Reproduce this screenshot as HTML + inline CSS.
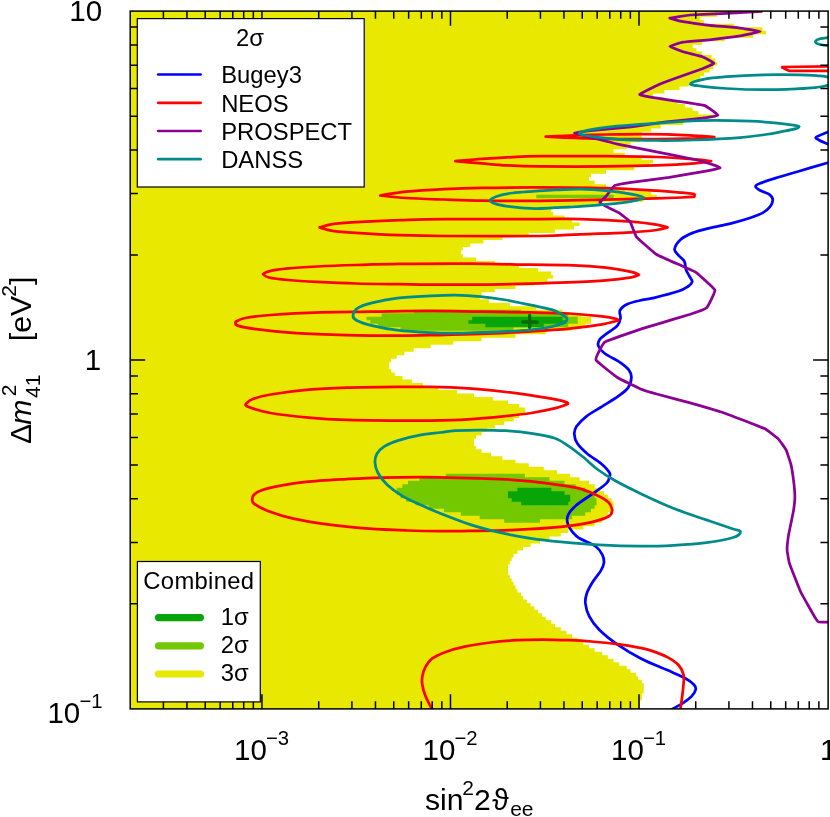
<!DOCTYPE html>
<html><head><meta charset="utf-8"><title>chart</title>
<style>html,body{margin:0;padding:0;background:#fff;}body{width:830px;height:817px;overflow:hidden;font-family:"Liberation Sans",sans-serif;}svg{display:block;will-change:transform;transform:translateZ(0);}</style></head>
<body>
<svg width="830" height="817" viewBox="0 0 830 817">
<defs><clipPath id="pc"><rect x="130.2" y="11.1" width="697.9" height="697.8"/></clipPath></defs>
<rect x="0" y="0" width="830" height="817" fill="#ffffff"/>
<g clip-path="url(#pc)">
<path d="M130.2 11.1L762.46 11.1 L762.46 13.24L717.22 13.24 L717.22 16.73L700.25 16.73 L700.25 20.22L704.02 20.22 L704.02 23.71L734.19 23.71 L734.19 27.2L762.46 27.2 L762.46 30.69L766.23 30.69 L766.23 34.18L753.04 34.18 L753.04 37.67L724.76 37.67 L724.76 41.16L702.14 41.16 L702.14 44.65L692.71 44.65 L692.71 48.13L696.48 48.13 L696.48 51.62L702.14 51.62 L702.14 55.11L711.57 55.11 L711.57 58.6L715.34 58.6 L715.34 62.09L717.22 62.09 L717.22 65.58L713.45 65.58 L713.45 69.07L709.68 69.07 L709.68 72.56L704.02 72.56 L704.02 76.05L700.25 76.05 L700.25 79.54L694.6 79.54 L694.6 83.02L688.94 83.02 L688.94 86.51L679.52 86.51 L679.52 90L664.44 90 L664.44 93.49L653.13 93.49 L653.13 96.98L664.44 96.98 L664.44 100.47L677.63 100.47 L677.63 103.96L685.17 103.96 L685.17 107.45L692.71 107.45 L692.71 110.94L698.37 110.94 L698.37 114.43L715.34 114.43 L715.34 117.91L702.14 117.91 L702.14 121.4L683.29 121.4 L683.29 124.89L660.67 124.89 L660.67 128.38L651.24 128.38 L651.24 131.87L641.82 131.87 L641.82 135.36L641.82 135.36 L641.82 138.85L639.93 138.85 L639.93 142.34L630.51 142.34 L630.51 145.83L626.73 145.83 L626.73 149.32L613.54 149.32 L613.54 152.8L624.85 152.8 L624.85 156.29L641.82 156.29 L641.82 159.78L653.13 159.78 L653.13 163.27L649.36 163.27 L649.36 166.76L634.28 166.76 L634.28 170.25L606 170.25 L606 173.74L590.92 173.74 L590.92 177.23L589.03 177.23 L589.03 180.72L594.69 180.72 L594.69 184.21L606 184.21 L606 187.69L624.85 187.69 L624.85 191.18L651.24 191.18 L651.24 194.67L656.9 194.67 L656.9 198.16L643.7 198.16 L643.7 201.65L602.23 201.65 L602.23 205.14L570.18 205.14 L570.18 208.63L551.33 208.63 L551.33 212.12L553.22 212.12 L553.22 215.61L564.53 215.61 L564.53 219.1L572.07 219.1 L572.07 222.58L579.61 222.58 L579.61 226.07L573.95 226.07 L573.95 229.56L555.1 229.56 L555.1 233.05L528.71 233.05 L528.71 236.54L502.32 236.54 L502.32 240.03L483.47 240.03 L483.47 243.52L470.27 243.52 L470.27 247.01L462.73 247.01 L462.73 250.5L460.84 250.5 L460.84 253.99L462.73 253.99 L462.73 257.47L475.93 257.47 L475.93 260.96L494.78 260.96 L494.78 264.45L519.28 264.45 L519.28 267.94L538.13 267.94 L538.13 271.43L551.33 271.43 L551.33 274.92L553.22 274.92 L553.22 278.41L547.56 278.41 L547.56 281.9L534.36 281.9 L534.36 285.39L515.51 285.39 L515.51 288.88L494.78 288.88 L494.78 292.36L481.58 292.36 L481.58 295.85L479.7 295.85 L479.7 299.34L489.12 299.34 L489.12 302.83L509.86 302.83 L509.86 306.32L536.25 306.32 L536.25 309.81L562.64 309.81 L562.64 313.3L581.49 313.3 L581.49 316.79L590.92 316.79 L590.92 320.28L590.92 320.28 L590.92 323.77L585.26 323.77 L585.26 327.25L570.18 327.25 L570.18 330.74L545.67 330.74 L545.67 334.23L515.51 334.23 L515.51 337.72L481.58 337.72 L481.58 341.21L453.3 341.21 L453.3 344.7L430.68 344.7 L430.68 348.19L413.72 348.19 L413.72 351.68L404.29 351.68 L404.29 355.17L396.75 355.17 L396.75 358.66L391.09 358.66 L391.09 362.14L389.21 362.14 L389.21 365.63L389.21 365.63 L389.21 369.12L391.09 369.12 L391.09 372.61L394.87 372.61 L394.87 376.1L402.41 376.1 L402.41 379.59L411.83 379.59 L411.83 383.08L423.14 383.08 L423.14 386.57L438.22 386.57 L438.22 390.06L457.07 390.06 L457.07 393.55L474.04 393.55 L474.04 397.03L492.89 397.03 L492.89 400.52L507.97 400.52 L507.97 404.01L519.28 404.01 L519.28 407.5L524.94 407.5 L524.94 410.99L524.94 410.99 L524.94 414.48L519.28 414.48 L519.28 417.97L513.63 417.97 L513.63 421.46L504.2 421.46 L504.2 424.95L494.78 424.95 L494.78 428.44L487.24 428.44 L487.24 431.92L481.58 431.92 L481.58 435.41L475.93 435.41 L475.93 438.9L474.04 438.9 L474.04 442.39L474.04 442.39 L474.04 445.88L475.93 445.88 L475.93 449.37L481.58 449.37 L481.58 452.86L491.01 452.86 L491.01 456.35L502.32 456.35 L502.32 459.84L515.51 459.84 L515.51 463.33L528.71 463.33 L528.71 466.81L543.79 466.81 L543.79 470.3L556.99 470.3 L556.99 473.79L570.18 473.79 L570.18 477.28L579.61 477.28 L579.61 480.77L589.03 480.77 L589.03 484.26L594.69 484.26 L594.69 487.75L600.34 487.75 L600.34 491.24L604.11 491.24 L604.11 494.73L607.88 494.73 L607.88 498.22L611.65 498.22 L611.65 501.7L613.54 501.7 L613.54 505.19L613.54 505.19 L613.54 508.68L611.65 508.68 L611.65 512.17L607.88 512.17 L607.88 515.66L604.11 515.66 L604.11 519.15L602.23 519.15 L602.23 522.64L594.69 522.64 L594.69 526.13L583.38 526.13 L583.38 529.62L568.3 529.62 L568.3 533.11L560.76 533.11 L560.76 536.59L549.44 536.59 L549.44 540.08L540.02 540.08 L540.02 543.57L530.59 543.57 L530.59 547.06L523.05 547.06 L523.05 550.55L517.4 550.55 L517.4 554.04L513.63 554.04 L513.63 557.53L511.74 557.53 L511.74 561.02L509.86 561.02 L509.86 564.51L507.97 564.51 L507.97 568L507.97 568 L507.97 571.48L507.97 571.48 L507.97 574.97L509.86 574.97 L509.86 578.46L511.74 578.46 L511.74 581.95L513.63 581.95 L513.63 585.44L515.51 585.44 L515.51 588.93L517.4 588.93 L517.4 592.42L521.17 592.42 L521.17 595.91L523.05 595.91 L523.05 599.4L526.82 599.4 L526.82 602.89L530.59 602.89 L530.59 606.37L534.36 606.37 L534.36 609.86L538.13 609.86 L538.13 613.35L541.9 613.35 L541.9 616.84L545.67 616.84 L545.67 620.33L551.33 620.33 L551.33 623.82L555.1 623.82 L555.1 627.31L560.76 627.31 L560.76 630.8L566.41 630.8 L566.41 634.29L572.07 634.29 L572.07 637.78L577.72 637.78 L577.72 641.26L583.38 641.26 L583.38 644.75L589.03 644.75 L589.03 648.24L594.69 648.24 L594.69 651.73L602.23 651.73 L602.23 655.22L607.88 655.22 L607.88 658.71L613.54 658.71 L613.54 662.2L619.19 662.2 L619.19 665.69L626.73 665.69 L626.73 669.18L630.51 669.18 L630.51 672.67L636.16 672.67 L636.16 676.15L638.05 676.15 L638.05 679.64L641.82 679.64 L641.82 683.13L643.7 683.13 L643.7 686.62L643.7 686.62 L643.7 690.11L643.7 690.11 L643.7 693.6L641.82 693.6 L641.82 697.09L641.82 697.09 L641.82 700.58L639.93 700.58 L639.93 704.07L639.93 704.07 L639.93 707.56L639.93 707.56 L639.93 708.9L130.2 708.9 L130.2 707.56L130.2 707.56 L130.2 704.07L130.2 704.07 L130.2 700.58L130.2 700.58 L130.2 697.09L130.2 697.09 L130.2 693.6L130.2 693.6 L130.2 690.11L130.2 690.11 L130.2 686.62L130.2 686.62 L130.2 683.13L130.2 683.13 L130.2 679.64L130.2 679.64 L130.2 676.15L130.2 676.15 L130.2 672.67L130.2 672.67 L130.2 669.18L130.2 669.18 L130.2 665.69L130.2 665.69 L130.2 662.2L130.2 662.2 L130.2 658.71L130.2 658.71 L130.2 655.22L130.2 655.22 L130.2 651.73L130.2 651.73 L130.2 648.24L130.2 648.24 L130.2 644.75L130.2 644.75 L130.2 641.26L130.2 641.26 L130.2 637.78L130.2 637.78 L130.2 634.29L130.2 634.29 L130.2 630.8L130.2 630.8 L130.2 627.31L130.2 627.31 L130.2 623.82L130.2 623.82 L130.2 620.33L130.2 620.33 L130.2 616.84L130.2 616.84 L130.2 613.35L130.2 613.35 L130.2 609.86L130.2 609.86 L130.2 606.37L130.2 606.37 L130.2 602.89L130.2 602.89 L130.2 599.4L130.2 599.4 L130.2 595.91L130.2 595.91 L130.2 592.42L130.2 592.42 L130.2 588.93L130.2 588.93 L130.2 585.44L130.2 585.44 L130.2 581.95L130.2 581.95 L130.2 578.46L130.2 578.46 L130.2 574.97L130.2 574.97 L130.2 571.48L130.2 571.48 L130.2 568L130.2 568 L130.2 564.51L130.2 564.51 L130.2 561.02L130.2 561.02 L130.2 557.53L130.2 557.53 L130.2 554.04L130.2 554.04 L130.2 550.55L130.2 550.55 L130.2 547.06L130.2 547.06 L130.2 543.57L130.2 543.57 L130.2 540.08L130.2 540.08 L130.2 536.59L130.2 536.59 L130.2 533.11L130.2 533.11 L130.2 529.62L130.2 529.62 L130.2 526.13L130.2 526.13 L130.2 522.64L130.2 522.64 L130.2 519.15L130.2 519.15 L130.2 515.66L130.2 515.66 L130.2 512.17L130.2 512.17 L130.2 508.68L130.2 508.68 L130.2 505.19L130.2 505.19 L130.2 501.7L130.2 501.7 L130.2 498.22L130.2 498.22 L130.2 494.73L130.2 494.73 L130.2 491.24L130.2 491.24 L130.2 487.75L130.2 487.75 L130.2 484.26L130.2 484.26 L130.2 480.77L130.2 480.77 L130.2 477.28L130.2 477.28 L130.2 473.79L130.2 473.79 L130.2 470.3L130.2 470.3 L130.2 466.81L130.2 466.81 L130.2 463.33L130.2 463.33 L130.2 459.84L130.2 459.84 L130.2 456.35L130.2 456.35 L130.2 452.86L130.2 452.86 L130.2 449.37L130.2 449.37 L130.2 445.88L130.2 445.88 L130.2 442.39L130.2 442.39 L130.2 438.9L130.2 438.9 L130.2 435.41L130.2 435.41 L130.2 431.92L130.2 431.92 L130.2 428.44L130.2 428.44 L130.2 424.95L130.2 424.95 L130.2 421.46L130.2 421.46 L130.2 417.97L130.2 417.97 L130.2 414.48L130.2 414.48 L130.2 410.99L130.2 410.99 L130.2 407.5L130.2 407.5 L130.2 404.01L130.2 404.01 L130.2 400.52L130.2 400.52 L130.2 397.03L130.2 397.03 L130.2 393.55L130.2 393.55 L130.2 390.06L130.2 390.06 L130.2 386.57L130.2 386.57 L130.2 383.08L130.2 383.08 L130.2 379.59L130.2 379.59 L130.2 376.1L130.2 376.1 L130.2 372.61L130.2 372.61 L130.2 369.12L130.2 369.12 L130.2 365.63L130.2 365.63 L130.2 362.14L130.2 362.14 L130.2 358.66L130.2 358.66 L130.2 355.17L130.2 355.17 L130.2 351.68L130.2 351.68 L130.2 348.19L130.2 348.19 L130.2 344.7L130.2 344.7 L130.2 341.21L130.2 341.21 L130.2 337.72L130.2 337.72 L130.2 334.23L130.2 334.23 L130.2 330.74L130.2 330.74 L130.2 327.25L130.2 327.25 L130.2 323.77L130.2 323.77 L130.2 320.28L130.2 320.28 L130.2 316.79L130.2 316.79 L130.2 313.3L130.2 313.3 L130.2 309.81L130.2 309.81 L130.2 306.32L130.2 306.32 L130.2 302.83L130.2 302.83 L130.2 299.34L130.2 299.34 L130.2 295.85L130.2 295.85 L130.2 292.36L130.2 292.36 L130.2 288.88L130.2 288.88 L130.2 285.39L130.2 285.39 L130.2 281.9L130.2 281.9 L130.2 278.41L130.2 278.41 L130.2 274.92L130.2 274.92 L130.2 271.43L130.2 271.43 L130.2 267.94L130.2 267.94 L130.2 264.45L130.2 264.45 L130.2 260.96L130.2 260.96 L130.2 257.47L130.2 257.47 L130.2 253.99L130.2 253.99 L130.2 250.5L130.2 250.5 L130.2 247.01L130.2 247.01 L130.2 243.52L130.2 243.52 L130.2 240.03L130.2 240.03 L130.2 236.54L130.2 236.54 L130.2 233.05L130.2 233.05 L130.2 229.56L130.2 229.56 L130.2 226.07L130.2 226.07 L130.2 222.58L130.2 222.58 L130.2 219.1L130.2 219.1 L130.2 215.61L130.2 215.61 L130.2 212.12L130.2 212.12 L130.2 208.63L130.2 208.63 L130.2 205.14L130.2 205.14 L130.2 201.65L130.2 201.65 L130.2 198.16L130.2 198.16 L130.2 194.67L130.2 194.67 L130.2 191.18L130.2 191.18 L130.2 187.69L130.2 187.69 L130.2 184.21L130.2 184.21 L130.2 180.72L130.2 180.72 L130.2 177.23L130.2 177.23 L130.2 173.74L130.2 173.74 L130.2 170.25L130.2 170.25 L130.2 166.76L130.2 166.76 L130.2 163.27L130.2 163.27 L130.2 159.78L130.2 159.78 L130.2 156.29L130.2 156.29 L130.2 152.8L130.2 152.8 L130.2 149.32L130.2 149.32 L130.2 145.83L130.2 145.83 L130.2 142.34L130.2 142.34 L130.2 138.85L130.2 138.85 L130.2 135.36L130.2 135.36 L130.2 131.87L130.2 131.87 L130.2 128.38L130.2 128.38 L130.2 124.89L130.2 124.89 L130.2 121.4L130.2 121.4 L130.2 117.91L130.2 117.91 L130.2 114.43L130.2 114.43 L130.2 110.94L130.2 110.94 L130.2 107.45L130.2 107.45 L130.2 103.96L130.2 103.96 L130.2 100.47L130.2 100.47 L130.2 96.98L130.2 96.98 L130.2 93.49L130.2 93.49 L130.2 90L130.2 90 L130.2 86.51L130.2 86.51 L130.2 83.02L130.2 83.02 L130.2 79.54L130.2 79.54 L130.2 76.05L130.2 76.05 L130.2 72.56L130.2 72.56 L130.2 69.07L130.2 69.07 L130.2 65.58L130.2 65.58 L130.2 62.09L130.2 62.09 L130.2 58.6L130.2 58.6 L130.2 55.11L130.2 55.11 L130.2 51.62L130.2 51.62 L130.2 48.13L130.2 48.13 L130.2 44.65L130.2 44.65 L130.2 41.16L130.2 41.16 L130.2 37.67L130.2 37.67 L130.2 34.18L130.2 34.18 L130.2 30.69L130.2 30.69 L130.2 27.2L130.2 27.2 L130.2 23.71L130.2 23.71 L130.2 20.22L130.2 20.22 L130.2 16.73L130.2 16.73 L130.2 13.24L130.2 13.24 L130.2 11.1Z" fill="#e8e800"/>
<path d="M413.72 309.81L521.17 309.81 L521.17 313.3L568.3 313.3 L568.3 316.79L577.72 316.79 L577.72 320.28L577.72 320.28 L577.72 323.77L568.3 323.77 L568.3 327.25L513.63 327.25 L513.63 330.74L400.52 330.74 L400.52 327.25L377.9 327.25 L377.9 323.77L370.36 323.77 L370.36 320.28L366.59 320.28 L366.59 316.79L381.67 316.79 L381.67 313.3L413.72 313.3 L413.72 309.81Z" fill="#73c800"/>
<path d="M536.25 194.67L613.54 194.67 L613.54 198.16L536.25 198.16 L536.25 194.67Z" fill="#73c800"/>
<path d="M445.76 473.79L524.94 473.79 L524.94 477.28L549.44 477.28 L549.44 480.77L564.53 480.77 L564.53 484.26L575.84 484.26 L575.84 487.75L585.26 487.75 L585.26 491.24L590.92 491.24 L590.92 494.73L594.69 494.73 L594.69 498.22L596.57 498.22 L596.57 501.7L596.57 501.7 L596.57 505.19L594.69 505.19 L594.69 508.68L590.92 508.68 L590.92 512.17L585.26 512.17 L585.26 515.66L572.07 515.66 L572.07 519.15L540.02 519.15 L540.02 522.64L504.2 522.64 L504.2 519.15L479.7 519.15 L479.7 515.66L460.84 515.66 L460.84 512.17L443.88 512.17 L443.88 508.68L428.8 508.68 L428.8 505.19L415.6 505.19 L415.6 501.7L406.18 501.7 L406.18 498.22L400.52 498.22 L400.52 494.73L396.75 494.73 L396.75 491.24L396.75 491.24 L396.75 487.75L402.41 487.75 L402.41 484.26L408.06 484.26 L408.06 480.77L419.37 480.77 L419.37 477.28L445.76 477.28 L445.76 473.79Z" fill="#73c800"/>
<path d="M472.15 316.79L562.64 316.79 L562.64 320.28L566.41 320.28 L566.41 323.77L543.79 323.77 L543.79 327.25L485.35 327.25 L485.35 323.77L468.38 323.77 L468.38 320.28L472.15 320.28 L472.15 316.79Z" fill="#08a508"/>
<path d="M517.4 487.75L551.33 487.75 L551.33 491.24L564.53 491.24 L564.53 494.73L570.18 494.73 L570.18 498.22L570.18 498.22 L570.18 501.7L568.3 501.7 L568.3 505.19L521.17 505.19 L521.17 501.7L511.74 501.7 L511.74 498.22L507.97 498.22 L507.97 494.73L507.97 494.73 L507.97 491.24L517.4 491.24 L517.4 487.75Z" fill="#08a508"/>
</g>
<path d="M522.7 322H537.2M529.65 315.4V327.4" stroke="#066a06" stroke-width="3.3" stroke-linecap="round" fill="none"/>
<g clip-path="url(#pc)" fill="none" stroke-width="2.75" stroke-linejoin="round" stroke-linecap="round">
<path d="M836 160.5C834.63 160.88 833.98 161.02 827.8 162.8C821.62 164.58 807.73 168.6 798.9 171.2C790.07 173.8 781.23 176.38 774.8 178.4C768.37 180.42 763.52 181.97 760.3 183.3C757.08 184.63 755.5 185.2 755.5 186.4C755.5 187.6 757.9 189.1 760.3 190.5C762.7 191.9 767.82 193.2 769.9 194.8C771.98 196.4 772.8 198.08 772.8 200.1C772.8 202.12 771.58 204.77 769.9 206.9C768.22 209.03 765.92 211.1 762.7 212.9C759.48 214.7 755.83 215.97 750.6 217.7C745.37 219.43 738.13 221.57 731.3 223.3C724.47 225.03 716.03 226.5 709.6 228.1C703.17 229.7 697.52 231 692.7 232.9C687.88 234.8 683.72 236.8 680.7 239.5C677.68 242.2 675 246.5 674.6 249.1C674.2 251.7 676.68 253.08 678.3 255.1C679.92 257.12 683.02 258.78 684.3 261.2C685.58 263.62 685.2 267.2 686 269.6C686.8 272 688.07 273.58 689.1 275.6C690.13 277.62 692.4 279.88 692.2 281.7C692 283.52 690.22 284.9 687.9 286.5C685.58 288.1 683.93 289.42 678.3 291.3C672.67 293.18 660.48 296.27 654.1 297.8C647.72 299.33 644.42 299.45 640 300.5C635.58 301.55 630.93 302.45 627.6 304.1C624.27 305.75 621.18 308.08 620 310.4C618.82 312.72 620.93 315.47 620.5 318C620.07 320.53 619.6 323.07 617.4 325.6C615.2 328.13 610.25 330.88 607.3 333.2C604.35 335.52 601.18 337.38 599.7 339.5C598.22 341.62 597.55 343.57 598.4 345.9C599.25 348.23 601.2 350.77 604.8 353.5C608.4 356.23 616 359.57 620 362.3C624 365.03 626.9 367.37 628.8 369.9C630.7 372.43 631.53 374.5 631.4 377.5C631.27 380.5 630.23 384.75 628 387.9C625.77 391.05 622.28 393.33 618 396.4C613.72 399.47 607.55 402.98 602.3 406.3C597.05 409.62 590.78 412.98 586.5 416.3C582.22 419.62 578.63 423.23 576.6 426.2C574.57 429.17 574.17 431.2 574.3 434.1C574.43 437 575.28 440.37 577.4 443.6C579.52 446.83 583.07 450.18 587 453.5C590.93 456.82 597.27 460.33 601 463.5C604.73 466.67 608 470.25 609.4 472.5C610.8 474.75 609.9 475.18 609.4 477C608.9 478.82 609.22 480.58 606.4 483.4C603.58 486.22 597.52 490.27 592.5 493.9C587.48 497.53 580.37 501.68 576.3 505.2C572.23 508.72 569.47 511.73 568.1 515C566.73 518.27 566.73 521.28 568.1 524.8C569.47 528.32 573.48 533.4 576.3 536.1C579.12 538.8 581.75 539.27 585 541C588.25 542.73 592.92 544.23 595.8 546.5C598.68 548.77 600.95 551.88 602.3 554.6C603.65 557.32 604.17 560.08 603.9 562.8C603.63 565.52 602.6 567.65 600.7 570.9C598.8 574.15 594.83 578.5 592.5 582.3C590.17 586.1 587.88 590.18 586.7 593.7C585.52 597.22 584.97 599.62 585.4 603.4C585.83 607.18 587.03 612.05 589.3 616.4C591.57 620.75 594.4 624.88 599 629.5C603.6 634.12 609.85 639.23 616.9 644.1C623.95 648.97 632.9 654.37 641.3 658.7C649.7 663.03 659.98 666.83 667.3 670.1C674.62 673.37 680.75 675.85 685.2 678.3C689.65 680.75 692.25 682.92 694 684.8C695.75 686.68 696.07 687.72 695.7 689.6C695.33 691.48 693.82 693.93 691.8 696.1C689.78 698.27 686.87 700.42 683.6 702.6C680.33 704.78 676.13 706.97 672.2 709.2C668.27 711.43 662.03 714.87 660 716" stroke="#0000ff"/>
<path d="M835 129C833.73 129.55 830.52 130.95 827.4 132.3C824.28 133.65 817.72 135.82 816.3 137.1C814.88 138.38 817.05 138.88 818.9 140C820.75 141.12 824.72 142.63 827.4 143.8C830.08 144.97 833.73 146.47 835 147" stroke="#0000ff"/>
<path d="M545.7 136.7C550.58 136.48 564.95 135.77 575 135.4C585.05 135.03 595 134.72 606 134.5C617 134.28 631 134.12 641 134.1C651 134.08 657.83 134.2 666 134.4C674.17 134.6 681.93 134.87 690 135.3C698.07 135.73 710.33 136.72 714.4 137L714.4 137C711.1 137.22 704.23 137.93 694.6 138.3C684.97 138.67 671.37 139.1 656.6 139.2C641.83 139.3 619.6 139.1 606 138.9C592.4 138.7 585.05 138.37 575 138C564.95 137.63 550.58 136.92 545.7 136.7Z" stroke="#ff0000"/>
<path d="M455.4 161.1C459.83 160.72 473.4 159.43 482 158.8C490.6 158.17 497.33 157.73 507 157.3C516.67 156.87 523.5 156.38 540 156.2C556.5 156.02 586.57 156.07 606 156.2C625.43 156.33 641.83 156.48 656.6 157C671.37 157.52 685.52 158.62 694.6 159.3C703.68 159.98 708.35 160.8 711.1 161.1L711.1 161.1C708.35 161.47 703.68 162.58 694.6 163.3C685.52 164.02 671.37 164.88 656.6 165.4C641.83 165.92 625.43 166.23 606 166.4C586.57 166.57 556.5 166.57 540 166.4C523.5 166.23 516.67 165.9 507 165.4C497.33 164.9 490.6 164.12 482 163.4C473.4 162.68 459.83 161.48 455.4 161.1Z" stroke="#ff0000"/>
<path d="M380.2 195.5C384.5 194.87 395.37 192.75 406 191.7C416.63 190.65 431.33 189.83 444 189.2C456.67 188.57 466 188.2 482 187.9C498 187.6 519.33 187.35 540 187.4C560.67 187.45 586.57 187.65 606 188.2C625.43 188.75 643.93 189.95 656.6 190.7C669.27 191.45 675.83 192.17 682 192.7C688.17 193.23 691.57 193.22 693.6 193.9C695.63 194.58 694.1 196.32 694.2 196.8L694.2 196.8C692.17 196.92 688.27 197.25 682 197.5C675.73 197.75 669.27 197.95 656.6 198.3C643.93 198.65 625.43 199.18 606 199.6C586.57 200.02 560.67 200.63 540 200.8C519.33 200.97 498 200.82 482 200.6C466 200.38 456.67 199.93 444 199.5C431.33 199.07 416.63 198.67 406 198C395.37 197.33 384.5 195.92 380.2 195.5Z" stroke="#ff0000"/>
<path d="M319.6 227.4C321.75 226.85 326.48 224.97 332.5 224.1C338.52 223.23 344.45 222.85 355.7 222.2C366.95 221.55 385.28 220.72 400 220.2C414.72 219.68 420.67 219.28 444 219.1C467.33 218.92 517.22 219.1 540 219.1C562.78 219.1 565.48 218.68 580.7 219.1C595.92 219.52 618.65 220.67 631.3 221.6C643.95 222.53 650.57 223.73 656.6 224.7C662.63 225.67 665.68 226.95 667.5 227.4L667.5 227.4C665.68 227.83 662.63 229.18 656.6 230C650.57 230.82 643.95 231.58 631.3 232.3C618.65 233.02 595.92 233.68 580.7 234.3C565.48 234.92 562.78 235.72 540 236C517.22 236.28 467.33 236.15 444 236C420.67 235.85 414.72 235.63 400 235.1C385.28 234.57 366.95 233.52 355.7 232.8C344.45 232.08 338.52 231.7 332.5 230.8C326.48 229.9 321.75 227.97 319.6 227.4Z" stroke="#ff0000"/>
<path d="M263.1 274.2C264.07 273.72 264.72 272.27 268.9 271.3C273.08 270.33 280.17 269.2 288.2 268.4C296.23 267.6 305.85 267.07 317.1 266.5C328.35 265.93 341.88 265.43 355.7 265C369.52 264.57 380.95 264.13 400 263.9C419.05 263.67 448.33 263.47 470 263.6C491.67 263.73 513.67 264.43 530 264.7C546.33 264.97 555.33 264.7 568 265.2C580.67 265.7 595.45 266.6 606 267.7C616.55 268.8 625.82 270.62 631.3 271.8C636.78 272.98 637.63 274.3 638.9 274.8L638.9 274.8C637.63 275.22 636.78 276.37 631.3 277.3C625.82 278.23 616.55 279.55 606 280.4C595.45 281.25 580.67 281.87 568 282.4C555.33 282.93 544.67 283.23 530 283.6C515.33 283.97 496.67 284.43 480 284.6C463.33 284.77 443.33 284.67 430 284.6C416.67 284.53 412.38 284.38 400 284.2C387.62 284.02 369.52 283.88 355.7 283.5C341.88 283.12 328.35 282.48 317.1 281.9C305.85 281.32 296.23 280.73 288.2 280C280.17 279.27 273.08 278.47 268.9 277.5C264.72 276.53 264.07 274.75 263.1 274.2Z" stroke="#ff0000"/>
<path d="M235.7 321.8C237.3 321.17 239.47 319.13 245.3 318C251.13 316.87 258.03 315.93 270.7 315C283.37 314.07 304.42 312.95 321.3 312.4C338.18 311.85 353.88 311.95 372 311.7C390.12 311.45 411.88 310.9 430 310.9C448.12 310.9 463.82 311.45 480.7 311.7C497.58 311.95 516.53 312.1 531.3 312.4C546.07 312.7 557.48 312.83 569.3 313.5C581.12 314.17 594.38 315.5 602.2 316.4C610.02 317.3 613.53 318.22 616.2 318.9C618.87 319.58 617.87 320.23 618.2 320.5L618.2 320.5C615.53 321.13 610.35 322.95 602.2 324.3C594.05 325.65 581.12 327.42 569.3 328.6C557.48 329.78 546.07 330.5 531.3 331.4C516.53 332.3 497.58 333.37 480.7 334C463.82 334.63 443.9 334.92 430 335.2C416.1 335.48 411.2 335.7 397.3 335.7C383.4 335.7 363.48 335.62 346.6 335.2C329.72 334.78 310.77 334.17 296 333.2C281.23 332.23 267.72 330.67 258 329.4C248.28 328.13 241.42 326.87 237.7 325.6C233.98 324.33 236.03 322.43 235.7 321.8Z" stroke="#ff0000"/>
<path d="M246.1 403.6C247.23 402.83 248.8 400.52 252.9 399C257 397.48 261.4 396.05 270.7 394.5C280 392.95 296.05 390.83 308.7 389.7C321.35 388.57 331.83 388.17 346.6 387.7C361.37 387.23 383.4 387.03 397.3 386.9C411.2 386.77 418.22 386.65 430 386.9C441.78 387.15 455.33 387.55 468 388.4C480.67 389.25 495.45 390.85 506 392C516.55 393.15 522.87 394.03 531.3 395.3C539.73 396.57 550.68 398.42 556.6 399.6C562.52 400.78 564.93 401.67 566.8 402.4C568.67 403.13 567.63 403.73 567.8 404L567.8 404C565.93 404.65 562.68 406.4 556.6 407.9C550.52 409.4 539.73 411.65 531.3 413C522.87 414.35 516.55 414.95 506 416C495.45 417.05 480.67 418.53 468 419.3C455.33 420.07 441.78 420.38 430 420.6C418.22 420.82 411.2 420.72 397.3 420.6C383.4 420.48 361.37 420.4 346.6 419.9C331.83 419.4 321.35 418.75 308.7 417.6C296.05 416.45 280.83 414.82 270.7 413C260.57 411.18 252 408.27 247.9 406.7C243.8 405.13 246.4 404.12 246.1 403.6Z" stroke="#ff0000"/>
<path d="M252.3 499C252.5 498.38 252.15 496.68 253.5 495.3C254.85 493.92 255.88 492.3 260.4 490.7C264.92 489.1 273.02 487.17 280.6 485.7C288.18 484.23 295.35 482.97 305.9 481.9C316.45 480.83 331.25 480.02 343.9 479.3C356.55 478.58 365.78 477.93 381.8 477.6C397.82 477.27 422.73 477.13 440 477.3C457.27 477.47 472.82 478.13 485.4 478.6C497.98 479.07 505.45 479.35 515.5 480.1C525.55 480.85 535.65 481.83 545.7 483.1C555.75 484.37 567.27 485.68 575.8 487.7C584.33 489.72 591.38 492.7 596.9 495.2C602.42 497.7 606.33 500.2 608.9 502.7C611.47 505.2 611.73 508.95 612.3 510.2L612.3 510.2C611.73 511.22 612.48 514.28 608.9 516.3C605.32 518.32 598.83 520.55 590.8 522.3C582.77 524.05 573.25 525.55 560.7 526.8C548.15 528.05 530.55 529.12 515.5 529.8C500.45 530.48 482.98 530.67 470.4 530.9C457.82 531.13 450.55 531.27 440 531.2C429.45 531.13 418.9 530.92 407.1 530.5C395.3 530.08 381.85 529.63 369.2 528.7C356.55 527.77 343.85 526.58 331.2 524.9C318.55 523.22 303.83 520.92 293.3 518.6C282.77 516.28 274.55 513.5 268 511C261.45 508.5 256.62 505.6 254 503.6C251.38 501.6 252.58 499.77 252.3 499Z" stroke="#ff0000"/>
<path d="M436 716C435.33 714.87 433.75 712.52 432 709.2C430.25 705.88 427.12 700.17 425.5 696.1C423.88 692.03 422.83 688.05 422.3 684.8C421.77 681.55 421.77 679.58 422.3 676.6C422.83 673.62 423.88 669.88 425.5 666.9C427.12 663.92 428.73 661.15 432 658.7C435.27 656.25 439.67 654.2 445.1 652.2C450.53 650.2 457.02 648.32 464.6 646.7C472.18 645.08 481.93 643.58 490.6 642.5C499.27 641.42 507.92 640.7 516.6 640.2C525.28 639.7 534.02 639.5 542.7 639.5C551.38 639.5 560.57 639.87 568.7 640.2C576.83 640.53 583.37 640.85 591.5 641.5C599.63 642.15 609.42 643.05 617.5 644.1C625.58 645.15 634.4 646.72 640 647.8C645.6 648.88 646.55 649.05 651.1 650.6C655.65 652.15 662.7 654.67 667.3 657.1C671.9 659.53 675.98 662.22 678.7 665.2C681.42 668.18 682.83 671.47 683.6 675C684.37 678.53 683.57 682.6 683.3 686.4C683.03 690.2 682.48 694 682 697.8C681.52 701.6 680.8 706.17 680.4 709.2C680 712.23 679.73 714.87 679.6 716" stroke="#ff0000"/>
<path d="M835 66.3L781.4 67L789.2 70.9L835 70.9" stroke="#ff0000" stroke-linejoin="miter"/>
<path d="M761.5 11.3C759.75 11.4 730.06 13.12 726.5 13.3C722.94 13.49 693.13 14.76 690.3 15C687.46 15.24 670.16 17.77 669.8 18.1C669.44 18.44 681.11 21.34 683.1 21.7C685.09 22.06 706.83 24.99 709.6 25.3C712.38 25.61 736.07 27.58 738.6 27.9C741.13 28.21 760.3 31.19 760.3 31.6C760.3 32.02 741.13 35.79 738.6 36.2C736.07 36.61 712.38 39.5 709.6 39.8C706.83 40.1 685.09 41.88 683.1 42.2C681.11 42.53 669.8 45.82 669.8 46.3C669.8 46.78 681.47 51.28 683.1 51.8C684.73 52.32 700.86 56.13 702.4 56.7C703.94 57.27 714 62.6 714 63.2C714 63.8 704.18 68 702.4 68.7C700.62 69.4 680.47 76.42 678.3 77.2C676.13 77.98 660.93 83.54 659 84.4C657.07 85.27 639.85 93.83 639.6 94.5C639.36 95.17 652.17 97.36 654.1 97.7C656.03 98.04 675.76 100.91 678.3 101.3C680.83 101.69 702.81 104.9 704.8 105.6C706.78 106.3 718.12 114.67 718 115.3C717.88 115.93 704.99 117.88 702.4 118.2C699.81 118.53 669.75 121.36 666.2 121.8C662.65 122.23 634.94 126.47 631.3 126.9C627.65 127.33 596.15 130.1 593.3 130.4C590.45 130.7 574.3 132.52 574.3 132.9C574.3 133.28 591.08 137.43 593.3 138C595.52 138.57 615.54 143.61 618.7 144.3C621.87 145 652.81 151.14 656.6 151.9C660.39 152.66 691.69 158.82 694.6 159.5C697.51 160.18 713.63 164.98 714.9 165.4C716.17 165.82 720.38 167.62 720 167.9C719.62 168.18 709.83 170.43 707.3 170.9C704.76 171.37 673.1 176.73 669.3 177.3C665.5 177.87 634.02 181.9 631.3 182.3C628.58 182.71 616.16 184.7 614.9 185.4C613.63 186.1 606.76 195.44 606 196.3C605.24 197.16 599.7 202.09 599.7 202.6C599.7 203.1 605.05 205.9 606 206.4C606.95 206.91 617.5 211.94 618.7 212.7C619.91 213.46 629.22 220.39 630.1 221.6C630.99 222.81 635.07 235.16 636.4 236.8C637.73 238.45 654.32 253.05 656.6 254.5C658.88 255.95 680.03 265.01 682 265.9C683.97 266.79 694.25 271.09 695.9 272.3C697.54 273.51 714.36 288.33 714.9 290.1C715.44 291.87 707.93 306.5 706.7 307.7C705.47 308.9 692.93 313.33 690.3 314.2C687.67 315.07 656.62 324.34 654.1 325.1C651.59 325.86 642.47 328.55 640 329.4C637.53 330.25 607 340.58 604.8 342.1C602.59 343.62 595.27 358.03 595.9 359.8C596.53 361.57 615.19 376.06 617.4 377.5C619.61 378.94 637.99 387.86 640 388.7C642.01 389.54 655.1 393.6 657.6 394.3C660.11 395 686.85 401.89 690.1 402.8C693.36 403.71 719.77 411.52 722.7 412.5C725.63 413.48 746.59 421.49 748.7 422.3C750.82 423.12 763.53 427.99 765 428.8C766.47 429.62 776.95 437.55 778 438.6C779.05 439.66 785.45 448.6 786.1 449.9C786.75 451.2 790.62 463.06 791 464.6C791.38 466.15 793.4 479.18 793.6 480.8C793.8 482.43 794.9 495.64 794.9 497.1C794.9 498.56 793.8 508.8 793.6 510.1C793.4 511.4 791.26 521.8 791 523.1C790.74 524.4 788.6 534.75 788.4 536.1C788.2 537.45 787.06 548.66 787.1 550C787.14 551.34 788.94 561.51 789.3 562.8C789.65 564.09 793.63 574.34 794.2 575.8C794.77 577.26 799.97 590.46 800.7 592C801.44 593.54 808.16 605.4 808.9 606.7C809.63 608 814.91 617.34 815.4 618.1C815.88 618.87 817.77 621.8 818.6 622C819.43 622.2 831.33 622 832 622" stroke="#8c0094"/>
<path d="M835 36.5C833.73 36.7 830.15 37.25 827.4 37.7C824.65 38.15 820.5 38.5 818.5 39.2C816.5 39.9 815.32 41.07 815.4 41.9C815.48 42.73 817 43.57 819 44.2C821 44.83 824.73 45.3 827.4 45.7C830.07 46.1 833.73 46.45 835 46.6" stroke="#008b8b"/>
<path d="M690.3 83.9C690.3 82.78 696.37 80.8 702.4 79.6C708.43 78.4 716.45 77.5 726.5 76.7C736.55 75.9 750.63 75.12 762.7 74.8C774.77 74.48 789.68 74.63 798.9 74.8C808.12 74.97 813.15 75.42 818 75.8C822.85 76.18 825 76.2 828 77.1C831 78 836 79.83 836 81.2C836 82.57 831.5 84.23 828 85.3C824.5 86.37 819.85 87.03 815 87.6C810.15 88.17 807.62 88.35 798.9 88.7C790.18 89.05 774.77 89.73 762.7 89.7C750.63 89.67 736.55 89.07 726.5 88.5C716.45 87.93 708.43 87.07 702.4 86.3C696.37 85.53 690.3 85.02 690.3 83.9Z" stroke="#008b8b"/>
<path d="M579.4 132.9C581.52 131.35 595.23 128.87 606 127.4C616.77 125.93 631.17 125.12 644 124.1C656.83 123.08 671.27 121.93 683 121.3C694.73 120.67 703.13 120.32 714.4 120.3C725.67 120.28 740.53 120.78 750.6 121.2C760.67 121.62 767.72 122.15 774.8 122.8C781.88 123.45 789.05 124.47 793.1 125.1C797.15 125.73 798.8 125.97 799.1 126.6C799.4 127.23 797.6 128.1 794.9 128.9C792.2 129.7 787.77 130.47 782.9 131.4C778.03 132.33 772.85 133.47 765.7 134.5C758.55 135.53 751.85 136.68 740 137.6C728.15 138.52 708.5 139.52 694.6 140C680.7 140.48 669.25 140.62 656.6 140.5C643.95 140.38 629.25 139.93 618.7 139.3C608.15 138.67 599.85 137.77 593.3 136.7C586.75 135.63 577.28 134.45 579.4 132.9Z" stroke="#008b8b"/>
<path d="M490.1 200.8C490.1 199.45 493.48 197.6 497.2 196.3C500.92 195 506.1 193.85 512.4 193C518.7 192.15 527.85 191.72 535 191.2C542.15 190.68 547.68 190.23 555.3 189.9C562.92 189.57 572.25 189.07 580.7 189.2C589.15 189.33 597.57 189.87 606 190.7C614.43 191.53 624.97 193.02 631.3 194.2C637.63 195.38 644 196.62 644 197.8C644 198.98 637.63 200.2 631.3 201.3C624.97 202.4 614.43 203.55 606 204.4C597.57 205.25 589.15 205.85 580.7 206.4C572.25 206.95 562.92 207.33 555.3 207.7C547.68 208.07 542.15 208.73 535 208.6C527.85 208.47 518.7 207.6 512.4 206.9C506.1 206.2 500.92 205.42 497.2 204.4C493.48 203.38 490.1 202.15 490.1 200.8Z" stroke="#008b8b"/>
<path d="M353 315.5C353.2 313.4 354.83 310.02 358 307.9C361.17 305.78 365.45 304.42 372 302.8C378.55 301.18 387.63 299.35 397.3 298.2C406.97 297.05 420.33 296.42 430 295.9C439.67 295.38 446.85 294.98 455.3 295.1C463.75 295.22 472.25 295.78 480.7 296.6C489.15 297.42 497.57 298.57 506 300C514.43 301.43 523.7 303.6 531.3 305.2C538.9 306.8 546.57 308.1 551.6 309.6C556.63 311.1 559.07 312.87 561.5 314.2C563.93 315.53 565.3 316.7 566.2 317.6C567.1 318.5 567.03 318.87 566.9 319.6C566.77 320.33 566.88 321.1 565.4 322C563.92 322.9 561.4 324 558 325C554.6 326 549.85 327.17 545 328C540.15 328.83 535.4 329.43 528.9 330C522.4 330.57 514.03 331 506 331.4C497.97 331.8 489.15 332.1 480.7 332.4C472.25 332.7 463.75 333.15 455.3 333.2C446.85 333.25 439.67 333.2 430 332.7C420.33 332.2 406.97 331.38 397.3 330.2C387.63 329.02 378.75 327.22 372 325.6C365.25 323.98 359.97 322.18 356.8 320.5C353.63 318.82 352.8 317.6 353 315.5Z" stroke="#008b8b"/>
<path d="M375 462.9C374.8 459.73 375.23 456.75 376.8 454C378.37 451.25 380.62 448.72 384.4 446.4C388.18 444.08 393.6 441.98 399.5 440.1C405.4 438.22 413.05 436.37 419.8 435.1C426.55 433.83 434.08 433.23 440 432.5C445.92 431.77 448.52 431.12 455.3 430.7C462.08 430.28 472.25 430 480.7 430C489.15 430 497.57 430.15 506 430.7C514.43 431.25 523.13 432.05 531.3 433.3C539.47 434.55 548.72 436.03 555 438.2C561.28 440.37 564.25 443.12 569 446.3C573.75 449.48 578.83 453.52 583.5 457.3C588.17 461.08 591.7 465.08 597 469C602.3 472.92 607.92 476.65 615.3 480.8C622.68 484.95 631.53 489.28 641.3 493.9C651.07 498.52 663.05 504.17 673.9 508.5C684.75 512.83 696.65 516.53 706.4 519.9C716.15 523.27 726.72 526.7 732.4 528.7C738.08 530.7 740.5 530.38 740.5 531.9C740.5 533.42 738.08 536 732.4 537.8C726.72 539.6 716.15 541.45 706.4 542.7C696.65 543.95 684.75 544.72 673.9 545.3C663.05 545.88 653.78 546.27 641.3 546.2C628.82 546.13 612.43 545.62 599 544.9C585.57 544.18 572.1 543 560.7 541.9C549.3 540.8 540.63 539.83 530.6 538.3C520.57 536.77 510.53 534.98 500.5 532.7C490.47 530.42 480.48 527.85 470.4 524.6C460.32 521.35 448.43 516.53 440 513.2C431.57 509.87 426.12 507.5 419.8 504.6C413.48 501.7 407.58 499.17 402.1 495.8C396.62 492.43 390.92 488.2 386.9 484.4C382.88 480.6 379.98 476.58 378 473C376.02 469.42 375.2 466.07 375 462.9Z" stroke="#008b8b"/>
</g>
<path d="M163.4 708.9v-7.6M163.4 11.1v7.6M186.95 708.9v-7.6M186.95 11.1v7.6M205.22 708.9v-7.6M205.22 11.1v7.6M220.14 708.9v-7.6M220.14 11.1v7.6M232.76 708.9v-7.6M232.76 11.1v7.6M243.7 708.9v-7.6M243.7 11.1v7.6M253.34 708.9v-7.6M253.34 11.1v7.6M261.96 708.9v-14.6M261.96 11.1v14.6M318.71 708.9v-7.6M318.71 11.1v7.6M351.91 708.9v-7.6M351.91 11.1v7.6M375.46 708.9v-7.6M375.46 11.1v7.6M393.73 708.9v-7.6M393.73 11.1v7.6M408.65 708.9v-7.6M408.65 11.1v7.6M421.28 708.9v-7.6M421.28 11.1v7.6M432.21 708.9v-7.6M432.21 11.1v7.6M441.85 708.9v-7.6M441.85 11.1v7.6M450.48 708.9v-14.6M450.48 11.1v14.6M507.22 708.9v-7.6M507.22 11.1v7.6M540.42 708.9v-7.6M540.42 11.1v7.6M563.97 708.9v-7.6M563.97 11.1v7.6M582.24 708.9v-7.6M582.24 11.1v7.6M597.17 708.9v-7.6M597.17 11.1v7.6M609.79 708.9v-7.6M609.79 11.1v7.6M620.72 708.9v-7.6M620.72 11.1v7.6M630.36 708.9v-7.6M630.36 11.1v7.6M638.99 708.9v-14.6M638.99 11.1v14.6M695.74 708.9v-7.6M695.74 11.1v7.6M728.93 708.9v-7.6M728.93 11.1v7.6M752.48 708.9v-7.6M752.48 11.1v7.6M770.75 708.9v-7.6M770.75 11.1v7.6M785.68 708.9v-7.6M785.68 11.1v7.6M798.3 708.9v-7.6M798.3 11.1v7.6M809.23 708.9v-7.6M809.23 11.1v7.6M818.87 708.9v-7.6M818.87 11.1v7.6M130.2 603.87h7.7M828.1 603.87h-7.7M130.2 542.43h7.7M828.1 542.43h-7.7M130.2 498.84h7.7M828.1 498.84h-7.7M130.2 465.03h7.7M828.1 465.03h-7.7M130.2 437.4h7.7M828.1 437.4h-7.7M130.2 414.05h7.7M828.1 414.05h-7.7M130.2 393.81h7.7M828.1 393.81h-7.7M130.2 375.96h7.7M828.1 375.96h-7.7M130.2 360h15M828.1 360h-15M130.2 254.97h7.7M828.1 254.97h-7.7M130.2 193.53h7.7M828.1 193.53h-7.7M130.2 149.94h7.7M828.1 149.94h-7.7M130.2 116.13h7.7M828.1 116.13h-7.7M130.2 88.5h7.7M828.1 88.5h-7.7M130.2 65.15h7.7M828.1 65.15h-7.7M130.2 44.91h7.7M828.1 44.91h-7.7M130.2 27.06h7.7M828.1 27.06h-7.7" stroke="#000" stroke-width="1.5" fill="none"/>
<rect x="130.2" y="11.1" width="697.9" height="697.8" fill="none" stroke="#000" stroke-width="1.5"/>
<rect x="137.3" y="18.6" width="226.9" height="168.4" fill="#fff" stroke="#000" stroke-width="1.2"/>
<rect x="137.4" y="561.5" width="122.9" height="140.4" fill="#fff" stroke="#000" stroke-width="1.2"/>
<path d="M158.2 74.5H200.6" stroke="#0000ff" stroke-width="2.7" stroke-linecap="round"/>
<path d="M158.2 102.8H200.6" stroke="#ff0000" stroke-width="2.7" stroke-linecap="round"/>
<path d="M158.2 131H200.6" stroke="#8c0094" stroke-width="2.7" stroke-linecap="round"/>
<path d="M158.2 159.2H200.6" stroke="#008b8b" stroke-width="2.7" stroke-linecap="round"/>
<path d="M158.5 617.6H200.4" stroke="#08a508" stroke-width="7.2" stroke-linecap="round"/>
<path d="M158.5 645.8H200.4" stroke="#73c800" stroke-width="7.2" stroke-linecap="round"/>
<path d="M158.5 674H200.4" stroke="#e8e800" stroke-width="7.2" stroke-linecap="round"/>
<g fill="#000">
<text x="102.2" y="21.1" font-size="29.5" text-anchor="end" font-family="'Liberation Sans', sans-serif">10</text>
<text x="101.2" y="370.2" font-size="29.5" text-anchor="end" font-family="'Liberation Sans', sans-serif">1</text>
<text x="102.5" y="722.8" font-size="29.5" text-anchor="end" font-family="'Liberation Sans', sans-serif">10<tspan font-size="20.3" dx="-0.9" dy="-14.5">−1</tspan></text>
<text x="261.56" y="759.5" font-size="29.5" text-anchor="middle" font-family="'Liberation Sans', sans-serif">10<tspan font-size="20.3" dx="-0.9" dy="-14.5">−3</tspan></text>
<text x="450.08" y="759.5" font-size="29.5" text-anchor="middle" font-family="'Liberation Sans', sans-serif">10<tspan font-size="20.3" dx="-0.9" dy="-14.5">−2</tspan></text>
<text x="638.59" y="759.5" font-size="29.5" text-anchor="middle" font-family="'Liberation Sans', sans-serif">10<tspan font-size="20.3" dx="-0.9" dy="-14.5">−1</tspan></text>
<text x="828.1" y="759.5" font-size="29.5" text-anchor="middle" font-family="'Liberation Sans', sans-serif">1</text>
<text x="424.9" y="809.75" font-size="30.2" font-family="'Liberation Sans', sans-serif">sin<tspan font-size="21.0" dx="-1.2" dy="-14.45">2</tspan><tspan dy="14.45">2</tspan><tspan dx="1.4">ϑ</tspan><tspan font-size="21.0" dx="1.5" dy="5.75">ee</tspan></text>
<g transform="translate(31.1 444.1) rotate(-90)">
<text x="0" y="0" font-size="30.2" font-family="'Liberation Sans', sans-serif">Δ</text>
<text x="19.4" y="0" font-size="30.2" font-style="italic" font-family="'Liberation Sans', sans-serif">m</text>
<text x="47.8" y="-15.4" font-size="21.0" font-family="'Liberation Sans', sans-serif">2</text>
<text x="46.1" y="9.0" font-size="21.0" font-family="'Liberation Sans', sans-serif">41</text>
<text x="102.9" y="0" font-size="30.2" font-family="'Liberation Sans', sans-serif">[eV<tspan font-size="21.0" dx="-0.8" dy="-15.4">2</tspan><tspan dy="15.4">]</tspan></text>
</g>
<text x="235.9" y="45.6" font-size="23.8" font-family="'Liberation Sans', sans-serif">2σ</text>
<text x="221.2" y="83.2" font-size="23.8" font-family="'Liberation Sans', sans-serif">Bugey3</text>
<text x="221.2" y="111.5" font-size="23.8" font-family="'Liberation Sans', sans-serif">NEOS</text>
<text x="221.2" y="139.8" font-size="23.8" font-family="'Liberation Sans', sans-serif">PROSPECT</text>
<text x="221.2" y="168.1" font-size="23.8" font-family="'Liberation Sans', sans-serif">DANSS</text>
<text x="143.3" y="588.8" font-size="23.8" textLength="110.8" lengthAdjust="spacing" font-family="'Liberation Sans', sans-serif">Combined</text>
<text x="220.8" y="624.7" font-size="23.8" font-family="'Liberation Sans', sans-serif">1σ</text>
<text x="220.8" y="653" font-size="23.8" font-family="'Liberation Sans', sans-serif">2σ</text>
<text x="220.8" y="681.3" font-size="23.8" font-family="'Liberation Sans', sans-serif">3σ</text>
</g>
</svg>
</body></html>
